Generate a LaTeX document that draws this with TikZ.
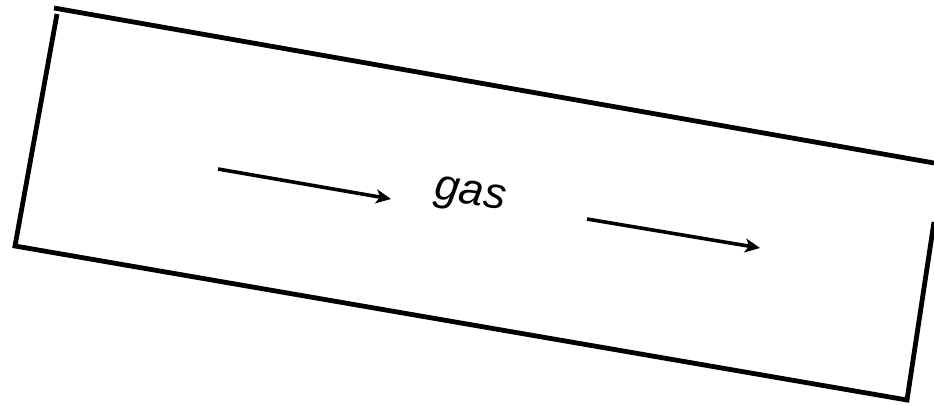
\documentclass[tikz,border=0pt]{standalone}
\usepackage{fontspec}
\setmainfont{Liberation Sans}
\usetikzlibrary{arrows.meta}
\begin{document}
\begin{tikzpicture}[x=1pt,y=-1pt,
  wall/.style={line width=4.8pt},
  flow/.style={line width=3.6pt,-{Stealth[length=15pt,width=14pt,inset=4pt]}}]
\useasboundingbox (0,0) rectangle (934,406);
\coordinate (tl1) at (54,8);
\coordinate (tr) at (934,163);
\coordinate (tl2) at (57,14);
\coordinate (bl) at (15,246);
\coordinate (br) at (907,400);
\coordinate (rt) at (934,222);
\draw[wall] (tl1) -- (tr);
\draw[wall] (tl2) -- (bl) -- (br) -- (rt);
\coordinate (a1s) at (218,169);
\coordinate (a1e) at (391,199);
\coordinate (a2s) at (587,219);
\coordinate (a2e) at (760,248);
\draw[flow] (a1s) -- (a1e);
\draw[flow] (a2s) -- (a2e);
\node[rotate=-9, font=\fontsize{44}{48}\selectfont\itshape] (gas) at (470,197) {gas};
\end{tikzpicture}
\end{document}
